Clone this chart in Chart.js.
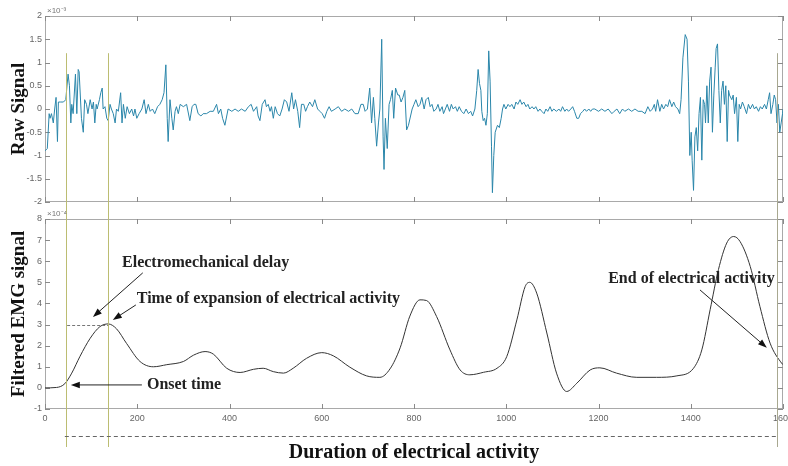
<!DOCTYPE html>
<html><head><meta charset="utf-8">
<script src="https://cdn.jsdelivr.net/npm/chart.js@4.4.0/dist/chart.umd.min.js"></script>
<style>
html,body{margin:0;padding:0;background:#fff;}
#wrap{position:relative;width:788px;height:466px;overflow:hidden;}
.box{position:absolute;left:0;width:788px;}
</style></head><body>
<div id="wrap">
  <div class="box" style="top:0;height:210px"><canvas id="c1" width="788" height="210"></canvas></div>
  <div class="box" style="top:210px;height:256px"><canvas id="c2" width="788" height="256"></canvas></div>
</div>
<script>
// ---------------- DATA ----------------
// Raw signal (values in units of 1e-3), sample index vs value
const rawTimeA = [0,5,9,11,14,18,21,24,27,29,33,40,45,50,53,56,58,61,66,69,72,74,79,83,86,90,93,98,102,105,108,111,113,118,121,124,126,130,134,137,141,144,148,152,155,159,164,167,170,174,178,183,188,192,195,199,204,210,215,219,224,228,233,238,244,249,254,258,262,265,267,271,275,278,282,285,289,293,300,307,314,319,323,327,332,338,343,350,358,365,372,376,381,385,390];
const rawValueA = [-0.9,-0.85,-0.1,-0.2,-0.1,-0.3,0.0,0.25,-0.7,0.15,0.15,0.15,0.2,0.75,0.5,-0.3,0.1,-0.1,0.75,-0.1,0.85,0.8,-0.2,-0.5,0.2,0.1,-0.1,0.2,0.0,0.15,-0.3,0.1,0.0,0.2,0.35,0.45,0.0,0.05,-0.2,-0.25,0.1,0.0,-0.1,-0.3,0.0,-0.05,0.35,-0.3,0.1,-0.2,0.05,-0.1,0.0,-0.15,0.0,-0.2,-0.1,0.0,0.2,-0.1,0.1,-0.05,0.0,-0.1,0.05,0.1,0.2,0.35,0.95,-0.2,-0.7,0.2,-0.2,-0.45,-0.05,0.05,-0.1,0.1,0.05,0.1,-0.25,0.05,0.1,0.1,-0.1,-0.15,-0.1,-0.1,-0.05,-0.05,0.1,-0.1,0.0,-0.2,-0.35];
const rawTimeB = [397,405,412,419,426,434,441,447,452,459,462,466,471,477,480,484,488,491,495,499,504,509,514,519,524,529,535,539,543,548,552,556,561,565,569,574,580,585,591,596,601,606,611,616,621,629,636,643,650,658,665,672,679,685,690,694,699,704,708,712,715,719,723,726,730,733,735,738,742,746,749,753,756,760,765,768,772,776,780,784,788];
const rawValueB = [0.0,-0.05,0.0,-0.05,0.0,-0.05,0.05,0.1,-0.05,0.05,-0.15,-0.25,0.1,0.2,0.05,0.1,-0.05,0.05,-0.2,0.05,-0.1,-0.15,0.0,0.2,0.15,-0.05,0.35,0.0,0.2,-0.05,-0.4,0.1,0.1,-0.05,0.05,0.15,0.05,0.2,0.0,-0.05,-0.1,-0.2,-0.05,0.05,-0.05,0.0,0.05,-0.05,0.0,-0.05,0.0,-0.1,-0.1,0.1,0.1,-0.05,0.0,0.45,-0.3,0.25,-0.2,-0.8,-0.3,0.0,1.5,-0.6,-1.3,-0.2,-0.85,0.1,0.2,0.4,-0.2,0.45,0.3,0.3,0.15,0.25,0.4,-0.45,-0.35];
const rawTimeC = [796,800,804,809,813,817,822,826,831,835,839,843,848,852,856,861,864,868,872,877,881,885,890,894,898,903,908,913,918,923,927,932,936,939,942,945,947,950,953,956,959,962,965,968,970,973,976,981,985,989,992,995,999,1004,1008,1012,1017,1021,1025,1030,1034,1038,1043,1047,1051,1056,1060,1064,1069,1073,1077,1082,1086,1090,1095,1099,1103,1109,1114,1118,1122,1127,1131,1135,1140,1144,1148,1153,1157,1161,1166,1170,1174,1179,1183,1187];
const rawValueC = [0.0,0.1,0.2,0.05,0.1,0.25,0.0,0.2,0.25,0.05,0.1,-0.05,0.0,0.1,-0.05,0.05,-0.1,0.0,0.1,-0.05,0.1,0.0,0.05,-0.05,0.05,-0.05,-0.1,0.0,-0.1,-0.05,-0.15,0.0,0.4,0.85,0.55,0.4,-0.05,-0.25,-0.2,-0.35,-0.1,1.25,0.6,-0.8,-1.8,-1.0,-0.5,-0.35,-0.4,-0.2,0.0,0.1,0.0,0.1,0.05,0.1,0.0,0.15,0.1,0.2,0.1,0.15,0.05,0.1,0.0,0.05,0.0,0.05,-0.05,0.0,-0.05,-0.1,0.0,-0.05,0.05,-0.05,0.0,-0.05,0.0,-0.05,0.05,-0.05,0.0,-0.05,0.0,0.05,-0.05,-0.2,-0.2,-0.1,-0.05,0.0,-0.05,0.0,-0.05,0.0];
const rawTimeD = [1192,1200,1207,1214,1221,1229,1234,1240,1246,1252,1257,1265,1272,1279,1286,1294,1301,1307,1312,1317,1321,1324,1328,1333,1337,1341,1346,1350,1354,1359,1363,1367,1372,1376,1379,1383,1388,1392,1395,1398,1401,1403,1406,1409,1412,1415,1418,1421,1424,1427,1430,1432,1435,1438,1441,1444,1447,1450,1453,1455,1458,1461,1464,1467,1470,1473,1476,1479,1482,1484,1489,1492,1495,1499,1502,1505,1508,1512,1516,1521,1525,1529,1534,1538,1542,1547,1551,1555,1560,1564,1568,1571,1574,1578,1581,1584,1587,1590,1593,1596,1599,1600];
const rawValueD = [0.0,-0.05,0.0,-0.05,0.0,-0.1,-0.05,0.0,-0.1,0.0,-0.05,0.0,-0.05,0.0,-0.05,-0.05,-0.1,0.05,-0.05,0.0,0.1,-0.05,0.2,-0.05,0.1,0.0,0.1,0.05,0.2,0.05,0.15,0.05,0.0,-0.1,0.2,1.1,1.6,1.5,0.6,-1.0,-0.5,-1.1,-1.75,-0.6,-0.4,-0.9,-0.1,0.25,-1.1,0.2,0.1,-0.3,0.5,-0.3,0.6,0.9,-0.5,0.3,0.9,1.3,1.4,0.4,-0.3,0.4,0.6,0.1,0.5,-0.7,0.4,0.3,0.2,0.3,-0.1,0.25,-0.7,0.1,0.0,0.15,0.05,-0.1,0.1,0.0,0.1,0.0,0.05,-0.05,0.05,0.0,0.1,0.0,0.2,0.35,-0.1,0.1,0.3,0.2,-0.3,0.1,-0.5,-0.3,-0.1,0.0];

// Filtered EMG signal (values in units of 1e-4)
const filtTime = [0,25,43,58,76,98,119,137,155,177,206,235,264,300,322,347,365,394,423,452,473,495,517,538,567,600,625,661,697,726,748,770,791,813,827,849,878,900,921,951,980,1001,1023,1041,1051,1066,1088,1109,1131,1153,1182,1203,1239,1283,1326,1370,1406,1424,1442,1460,1478,1493,1507,1529,1550,1572,1597,1600];
const filtValue = [0,0.02,0.2,0.7,1.5,2.35,2.9,3.03,2.8,2.1,1.25,1.0,1.1,1.25,1.55,1.72,1.6,0.93,0.73,0.88,0.93,0.77,0.7,0.93,1.4,1.67,1.52,0.98,0.57,0.5,0.9,1.9,3.4,4.17,4.14,3.38,1.8,0.85,0.62,0.74,0.93,1.48,3.22,4.8,5.0,4.49,2.6,0.7,-0.17,0.22,0.85,0.95,0.7,0.5,0.5,0.57,0.93,1.8,3.7,5.6,6.86,7.17,6.93,5.75,3.85,2.12,1.17,1.1];

// Event markers (sample index)
const onsetTime = 46;
const peakTime = 137;
const endTime = 1587;
const peakLevel = 3;

// Axis tick settings / labels
const rawYRange = [-2, 2, 0.5];
const filtYRange = [-1, 8, 1];
const xRange = [0, 1600, 200];
const rawExponent = '×10⁻³';
const filtExponent = '×10⁻⁴';
const rawTitle = 'Raw Signal';
const filtTitle = 'Filtered EMG signal';
const xTitle = 'Duration of electrical activity';

// ---------------- HELPERS ----------------
const toPts = (t, v) => t.map((x, i) => ({x: x, y: v[i]}));
const rawPoints = [].concat(
  toPts(rawTimeA, rawValueA), toPts(rawTimeB, rawValueB),
  toPts(rawTimeC, rawValueC), toPts(rawTimeD, rawValueD));
const filtPoints = toPts(filtTime, filtValue);
const fmt = v => String(Math.round(v * 100) / 100);

const decor = {
  id: 'decor',
  beforeDatasetsDraw(chart, args, o) {
    const ctx = chart.ctx, a = chart.chartArea, xs = chart.scales.x, ys = chart.scales.y;
    ctx.save();
    ctx.strokeStyle = '#a9a9a9'; ctx.lineWidth = 1;
    ctx.strokeRect(Math.round(a.left) + 0.5, Math.round(a.top) + 0.5,
      Math.round(a.right - a.left) - 1, Math.round(a.bottom - a.top) - 1);
    ctx.strokeStyle = '#8a8a8a';
    ctx.beginPath();
    ys.ticks.forEach(t => {
      const py = Math.round(ys.getPixelForValue(t.value)) + 0.5;
      ctx.moveTo(a.left, py); ctx.lineTo(a.left + 5, py);
      ctx.moveTo(a.right - 5, py); ctx.lineTo(a.right, py);
    });
    xs.ticks.forEach(t => {
      const px = Math.round(xs.getPixelForValue(t.value)) + 0.5;
      ctx.moveTo(px, a.bottom); ctx.lineTo(px, a.bottom - 5);
      ctx.moveTo(px, a.top); ctx.lineTo(px, a.top + 5);
    });
    ctx.stroke();
    ctx.restore();
  },
  afterDatasetsDraw(chart, args, o) {
    const ctx = chart.ctx, a = chart.chartArea, xs = chart.scales.x, ys = chart.scales.y;
    const X = v => xs.getPixelForValue(v), Y = v => ys.getPixelForValue(v);
    ctx.save();
    (o.vlines || []).forEach(v => {
      ctx.strokeStyle = v.color; ctx.lineWidth = 1; ctx.setLineDash([]);
      ctx.beginPath();
      const px = Math.round(X(v.x)) + 0.5;
      ctx.moveTo(px, Y(v.y0)); ctx.lineTo(px, Y(v.y1)); ctx.stroke();
    });
    (o.hlines || []).forEach(h => {
      ctx.strokeStyle = h.color; ctx.lineWidth = 1; ctx.setLineDash(h.dash || []);
      ctx.beginPath();
      const py = Math.round(Y(h.y)) + 0.5;
      ctx.moveTo(X(h.x0), py); ctx.lineTo(X(h.x1), py); ctx.stroke();
    });
    ctx.setLineDash([]);
    (o.arrows || []).forEach(ar => {
      const x0 = X(ar.x0), y0 = Y(ar.y0), x1 = X(ar.x1), y1 = Y(ar.y1);
      const ang = Math.atan2(y1 - y0, x1 - x0), L = 9, W = 3.2;
      ctx.strokeStyle = '#222'; ctx.fillStyle = '#111'; ctx.lineWidth = 1;
      ctx.beginPath(); ctx.moveTo(x0, y0);
      ctx.lineTo(x1 - Math.cos(ang) * L * 0.7, y1 - Math.sin(ang) * L * 0.7); ctx.stroke();
      ctx.beginPath();
      ctx.moveTo(x1, y1);
      ctx.lineTo(x1 - L * Math.cos(ang) + W * Math.sin(ang), y1 - L * Math.sin(ang) - W * Math.cos(ang));
      ctx.lineTo(x1 - L * Math.cos(ang) - W * Math.sin(ang), y1 - L * Math.sin(ang) + W * Math.cos(ang));
      ctx.closePath(); ctx.fill();
    });
    (o.texts || []).forEach(t => {
      ctx.font = 'bold 16px "Liberation Serif", "Times New Roman", serif';
      ctx.fillStyle = '#222'; ctx.textAlign = 'left'; ctx.textBaseline = 'middle';
      ctx.fillText(t.text, X(t.x), Y(t.y));
    });
    if (o.expo) {
      ctx.font = '8px "Liberation Sans", Arial, sans-serif';
      ctx.fillStyle = '#777'; ctx.textAlign = 'left'; ctx.textBaseline = 'middle';
      ctx.fillText(o.expo, a.left + 2, a.top - 5);
    }
    ctx.restore();
  }
};

const tickFont = {family: '"Liberation Sans", Arial, sans-serif', size: 9};
const tickColor = '#666';
const titleFont = {family: '"Liberation Serif", "Times New Roman", serif', size: 19, weight: 'bold'};

function yScale(range, title) {
  return {
    min: range[0], max: range[1],
    ticks: {stepSize: range[2], font: tickFont, color: tickColor, padding: 3, callback: fmt},
    grid: {display: false, drawTicks: false},
    border: {display: false},
    title: {display: true, text: title, font: titleFont, color: '#111', padding: {top: 8, bottom: 0}},
    afterFit(s) { s.width = 45; s.paddingTop = 0; s.paddingBottom = 0; }
  };
}

const markerColor = '#bcbd72';

new Chart(document.getElementById('c1'), {
  type: 'line',
  data: {datasets: [{data: rawPoints, borderColor: '#2a86aa', borderWidth: 1, pointRadius: 0, tension: 0}]},
  options: {
    responsive: false, animation: false,
    layout: {padding: {top: 16, right: 5, left: 0, bottom: 0}},
    plugins: {
      legend: {display: false}, tooltip: {enabled: false},
      decor: {
        expo: rawExponent,
        vlines: [
          {x: onsetTime, y0: 1.2, y1: -2.4, color: markerColor},
          {x: peakTime, y0: 1.2, y1: -2.4, color: markerColor},
          {x: endTime, y0: 1.2, y1: -2.4, color: '#a8a890'}
        ]
      }
    },
    scales: {
      x: {type: 'linear', min: xRange[0], max: xRange[1],
          ticks: {stepSize: xRange[2], display: false},
          grid: {display: false, drawTicks: false}, border: {display: false},
          afterFit(s) { s.height = 8; s.paddingLeft = 0; s.paddingRight = 0; }},
      y: yScale(rawYRange, rawTitle)
    }
  },
  plugins: [decor]
});

new Chart(document.getElementById('c2'), {
  type: 'line',
  data: {datasets: [{data: filtPoints, borderColor: '#333', borderWidth: 1, pointRadius: 0, cubicInterpolationMode: 'monotone'}]},
  options: {
    responsive: false, animation: false,
    layout: {padding: {top: 9, right: 5, left: 0, bottom: 0}},
    plugins: {
      legend: {display: false}, tooltip: {enabled: false},
      decor: {
        expo: filtExponent,
        vlines: [
          {x: onsetTime, y0: 8.6, y1: -2.8, color: markerColor},
          {x: peakTime, y0: 8.6, y1: -2.8, color: markerColor},
          {x: endTime, y0: 8.6, y1: -2.8, color: '#a8a890'}
        ],
        hlines: [
          {y: peakLevel, x0: 48, x1: peakTime, color: '#777', dash: [3, 2]},
          {y: -2.27, x0: 43, x1: endTime, color: '#666', dash: [4, 3]}
        ],
        arrows: [
          {x0: 212, y0: 5.45, x1: 104, y1: 3.36},
          {x0: 197, y0: 3.93, x1: 147, y1: 3.22},
          {x0: 210, y0: 0.14, x1: 56, y1: 0.14},
          {x0: 1420, y0: 4.64, x1: 1565, y1: 1.9}
        ],
        texts: [
          {text: 'Electromechanical delay', x: 167, y: 5.92},
          {text: 'Time of expansion of electrical activity', x: 199, y: 4.22},
          {text: 'Onset time', x: 221, y: 0.14},
          {text: 'End of electrical activity', x: 1221, y: 5.17}
        ]
      }
    },
    scales: {
      x: {type: 'linear', min: xRange[0], max: xRange[1],
          ticks: {stepSize: xRange[2], font: tickFont, color: tickColor, padding: 4, maxRotation: 0, callback: fmt},
          grid: {display: false, drawTicks: false}, border: {display: false},
          title: {display: true, text: xTitle,
                  font: {family: '"Liberation Serif", "Times New Roman", serif', size: 20, weight: 'bold'},
                  color: '#111', padding: {top: 0, bottom: 1}},
          afterFit(s) { s.height = 57; s.paddingLeft = 0; s.paddingRight = 0; }},
      y: yScale(filtYRange, filtTitle)
    }
  },
  plugins: [decor]
});
</script>
</body></html>
